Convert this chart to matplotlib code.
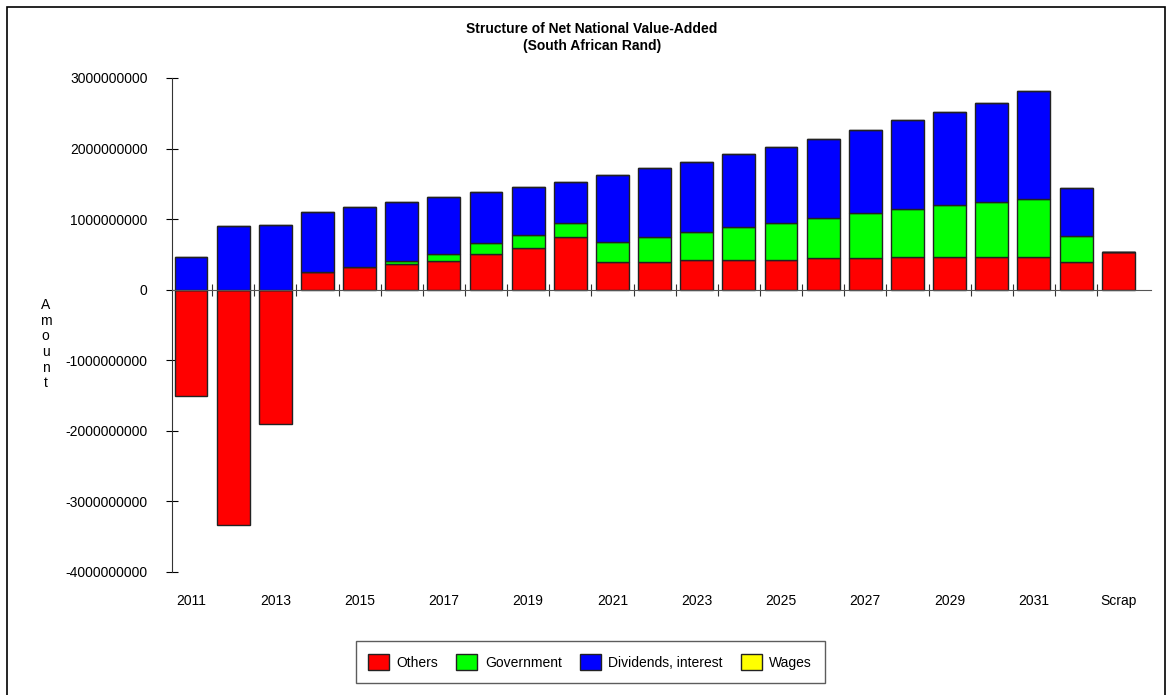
import numpy as np
import matplotlib.pyplot as plt
from matplotlib.patches import Rectangle

plt.rcParams['font.family'] = ['Liberation Sans', 'DejaVu Sans']

#Categories (only odd years are labelled on the axis).
years = ['2011', '2012', '2013', '2014', '2015', '2016', '2017', '2018', '2019', '2020',
         '2021', '2022', '2023', '2024', '2025', '2026', '2027', '2028', '2029', '2030',
         '2031', '2032', 'Scrap']
tick_labels = ['2011', '', '2013', '', '2015', '', '2017', '', '2019', '', '2021', '',
               '2023', '', '2025', '', '2027', '', '2029', '', '2031', '', 'Scrap']

#Values in billions of Rand.
others = [-1.50, -3.33, -1.91, 0.25, 0.32, 0.36, 0.40, 0.51, 0.59, 0.74, 0.39, 0.39,
          0.425, 0.425, 0.425, 0.45, 0.45, 0.46, 0.46, 0.46, 0.46, 0.39, 0.54]
government = [0, 0, 0, 0, 0, 0.05, 0.11, 0.15, 0.185, 0.21, 0.285, 0.35, 0.395, 0.465,
              0.525, 0.56, 0.63, 0.68, 0.735, 0.78, 0.83, 0.37, 0]
dividends = [0.47, 0.90, 0.91, 0.85, 0.85, 0.83, 0.80, 0.72, 0.68, 0.58, 0.955, 0.98,
             0.99, 1.03, 1.07, 1.12, 1.18, 1.26, 1.33, 1.41, 1.53, 0.68, 0]
wages = [0] * 23

others = np.array(others) * 1e9
government = np.array(government) * 1e9
dividends = np.array(dividends) * 1e9
wages = np.array(wages) * 1e9

x = np.arange(len(years))
w = 0.78

fig = plt.figure(figsize=(11.72, 6.95), dpi=100)
ax = fig.add_axes([0.1468, 0.177, 0.835, 0.7108])

#Positive parts stack up from zero, negative "others" hang below.
pos_others = np.clip(others, 0, None)
ec = '#222222'
ax.bar(x, others, w, color='#ff0000', edgecolor=ec, linewidth=1, label='Others', zorder=2)
ax.bar(x, government, w, bottom=pos_others, color='#00ff00', edgecolor=ec, linewidth=1,
       label='Government', zorder=2)
ax.bar(x, dividends, w, bottom=pos_others + government, color='#0000ff', edgecolor=ec,
       linewidth=1, label='Dividends, interest', zorder=2)
ax.bar(x, wages, w, bottom=pos_others + government + dividends, color='#ffff00',
       edgecolor=ec, linewidth=1, label='Wages', zorder=2)

ax.set_xlim(-0.45, 22.77)
ax.set_ylim(-4e9, 3e9)

#Axes: left spine plus a zero line with crossing ticks.
for s in ['top', 'right']:
    ax.spines[s].set_visible(False)
ax.spines['bottom'].set_position(('data', 0))
ax.spines['bottom'].set_color('#555555')
ax.spines['left'].set_color('#333333')

ax.set_yticks(np.arange(-4e9, 3.1e9, 1e9))
ax.set_yticklabels([str(int(v)) for v in np.arange(-4e9, 3.1e9, 1e9)], fontsize=10)
ax.tick_params(axis='y', direction='inout', length=9, pad=13)

ax.set_xticks(x[:-1] + 0.5)
ax.set_xticklabels([])
ax.tick_params(axis='x', direction='inout', length=9, color='#333333')

for i, lab in enumerate(tick_labels):
    if lab:
        ax.text(i, -0.045, lab, transform=ax.get_xaxis_transform(), ha='center',
                va='top', fontsize=10)

#Vertical "Amount" label, letter by letter.
fig.text(0.039, 0.505, 'A\nm\no\nu\nn\nt', ha='center', va='center', fontsize=10,
         linespacing=1.15)

#Title.
fig.text(0.505, 0.958, 'Structure of Net National Value-Added', ha='center',
         va='center', fontsize=10, weight='bold')
fig.text(0.505, 0.934, '(South African Rand)', ha='center', va='center', fontsize=10,
         weight='bold')

#Legend box at the bottom.
leg = fig.legend(loc='center', bbox_to_anchor=(0.5035, 0.0475), ncol=4, fontsize=10,
                 frameon=True, fancybox=False, edgecolor='#333333', handlelength=1.5,
                 handleheight=1.5, handletextpad=0.55, columnspacing=1.3, borderpad=0.9)
leg.get_frame().set_linewidth(1)

#Outer frame around the whole picture.
fig.patches.append(Rectangle((0.006, -0.01), 0.988, 1.0, transform=fig.transFigure,
                             fill=False, edgecolor='black', linewidth=1.2))

fig.savefig('out.png', dpi=100)
